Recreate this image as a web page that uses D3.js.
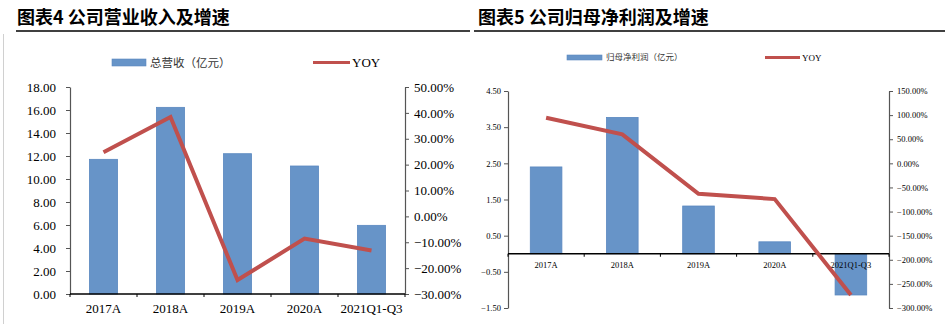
<!DOCTYPE html>
<html>
<head>
<meta charset="utf-8">
<script src="https://cdn.jsdelivr.net/npm/d3@7"></script>
<style>
  html, body { margin: 0; padding: 0; background: #fff; }
  svg { display: block; }
</style>
</head>
<body>
<svg id="chart" width="945" height="324"></svg>
<script>
// ---------- data ----------
const categories = ["2017A", "2018A", "2019A", "2020A", "2021Q1-Q3"];
const revenue = [11.71, 16.23, 12.20, 11.13, 5.97];          // 总营收（亿元）
const revenueYoy = [24.8, 38.4, -24.6, -8.6, -13.2];          // YOY %
const netProfit = [2.40, 3.77, 1.32, 0.33, -1.14];           // 归母净利润（亿元）
const netProfitYoy = [94.6, 60.2, -63.2, -74.2, -273.0];      // YOY %

const revenueTicks = [0, 2, 4, 6, 8, 10, 12, 14, 16, 18];
const revenueYoyTicks = [-30, -20, -10, 0, 10, 20, 30, 40, 50];
const profitTicks = [-1.5, -0.5, 0.5, 1.5, 2.5, 3.5, 4.5];
const profitYoyTicks = [-300, -250, -200, -150, -100, -50, 0, 50, 100, 150];

const title1 = "图表4 公司营业收入及增速";
const title2 = "图表5 公司归母净利润及增速";
const legendBar1 = "总营收（亿元）";
const legendBar2 = "归母净利润（亿元）";
const legendLine = "YOY";

// ---------- styles ----------
const BAR = "#6794c8", BAR_STROKE = "#5a88c0", LINE = "#c0504d";
const SERIF = "'Liberation Serif', 'Times New Roman', serif";
const CJK = "'Noto Sans CJK SC', sans-serif";

const svg = d3.select("#chart");

// panel border (light grey) on the far left
svg.append("line").attr("x1", 3.5).attr("x2", 3.5).attr("y1", 34).attr("y2", 324)
  .attr("stroke", "#d0d0d0").attr("stroke-width", 1);

function title(x, x2, text) {
  svg.append("text").attr("x", x).attr("y", 24)
    .attr("font-family", CJK).attr("font-weight", "bold").attr("font-size", 18)
    .attr("fill", "#000").text(text);
  svg.append("line").attr("x1", x2[0]).attr("x2", x2[1]).attr("y1", 31).attr("y2", 31)
    .attr("stroke", "#000").attr("stroke-width", 1.5);
}
title(17, [16, 470], title1);
title(478, [474, 945], title2);

function combo(cfg) {
  const g = svg.append("g");
  const x = d3.scaleBand().domain(categories).range([cfg.x0, cfg.x1]).padding(0);
  const yL = d3.scaleLinear().domain(cfg.yLDomain).range([cfg.yBottom, cfg.yTop]);
  const yR = d3.scaleLinear().domain(cfg.yRDomain).range([cfg.yBottom, cfg.yTop]);
  const bw = x.bandwidth() * cfg.barFrac;

  // bars
  g.selectAll("rect.bar").data(cfg.bars).join("rect")
    .attr("class", "bar")
    .attr("x", (d, i) => x(categories[i]) + (x.bandwidth() - bw) / 2)
    .attr("width", bw)
    .attr("y", d => Math.min(yL(d), yL(0)))
    .attr("height", d => Math.abs(yL(d) - yL(0)))
    .attr("fill", BAR).attr("stroke", BAR_STROKE).attr("stroke-width", 0.8);

  // left axis
  const axL = g.append("g").attr("transform", `translate(${cfg.x0},0)`)
    .call(d3.axisLeft(yL).tickValues(cfg.yLTicks).tickFormat(d3.format(".2f"))
      .tickSizeInner(4).tickSizeOuter(0).tickPadding(cfg.padL));
  // right axis
  const axR = g.append("g").attr("transform", `translate(${cfg.x1},0)`)
    .call(d3.axisRight(yR).tickValues(cfg.yRTicks).tickFormat(d => d3.format(".2f")(d) + "%")
      .tickSizeInner(4).tickSizeOuter(0).tickPadding(cfg.padR));
  [axL, axR].forEach(a => {
    a.select(".domain").attr("stroke", "#555").attr("stroke-width", 1.2);
    a.selectAll(".tick line").attr("stroke", "#555");
    a.selectAll("text").attr("font-family", SERIF).attr("font-size", cfg.fs).attr("fill", "#000");
  });

  // x axis line at zero
  const y0 = yL(0);
  g.append("line").attr("x1", cfg.x0).attr("x2", cfg.x1).attr("y1", y0).attr("y2", y0)
    .attr("stroke", "#000").attr("stroke-width", 1.5);
  g.selectAll("line.xt").data(categories.concat(["__end"])).join("line")
    .attr("class", "xt")
    .attr("x1", (d, i) => cfg.x0 + i * x.step()).attr("x2", (d, i) => cfg.x0 + i * x.step())
    .attr("y1", y0).attr("y2", y0 + 3).attr("stroke", "#000").attr("stroke-width", 1);
  g.selectAll("text.xl").data(categories).join("text")
    .attr("class", "xl")
    .attr("x", d => x(d) + x.bandwidth() / 2).attr("y", y0 + cfg.xLabelDy)
    .attr("text-anchor", "middle").attr("font-family", SERIF).attr("font-size", cfg.fs)
    .attr("fill", "#000").text(d => d);

  // YOY line
  const line = d3.line().x((d, i) => x(categories[i]) + x.bandwidth() / 2).y(d => yR(d));
  g.append("path").datum(cfg.yoy).attr("d", line)
    .attr("fill", "none").attr("stroke", LINE).attr("stroke-width", cfg.lw)
    .attr("stroke-linejoin", "miter");

  // legend
  const L = cfg.legend;
  g.append("rect").attr("x", L.bx).attr("y", L.by - L.bh / 2).attr("width", L.bw).attr("height", L.bh)
    .attr("fill", BAR).attr("stroke", BAR_STROKE).attr("stroke-width", 0.6);
  g.append("text").attr("x", L.bx + L.bw + 4).attr("y", L.by).attr("dy", "0.35em")
    .attr("font-family", CJK).attr("font-size", L.fs).attr("fill", "#333").text(cfg.barLabel);
  g.append("line").attr("x1", L.lx).attr("x2", L.lx + L.lwid).attr("y1", L.by).attr("y2", L.by)
    .attr("stroke", LINE).attr("stroke-width", 3);
  g.append("text").attr("x", L.lx + L.lwid + 2).attr("y", L.by).attr("dy", "0.35em")
    .attr("font-family", SERIF).attr("font-size", L.fs2).attr("fill", "#000").text(legendLine);
}

combo({
  x0: 70, x1: 405, yTop: 87, yBottom: 294,
  yLDomain: [0, 18], yRDomain: [-30, 50],
  yLTicks: revenueTicks, yRTicks: revenueYoyTicks,
  bars: revenue, yoy: revenueYoy, barFrac: 0.42,
  fs: 13, padL: 10, padR: 5, xLabelDy: 19, lw: 4,
  barLabel: legendBar1,
  legend: { bx: 112, by: 62.5, bw: 34, bh: 7, fs: 11.5, lx: 313, lwid: 37, fs2: 13 }
});

combo({
  x0: 508, x1: 889, yTop: 91, yBottom: 308,
  yLDomain: [-1.5, 4.5], yRDomain: [-300, 150],
  yLTicks: profitTicks, yRTicks: profitYoyTicks,
  bars: netProfit, yoy: netProfitYoy, barFrac: 0.415,
  fs: 8.5, padL: 3, padR: 4, xLabelDy: 14, lw: 4,
  barLabel: legendBar2,
  legend: { bx: 567, by: 57.5, bw: 35, bh: 5, fs: 8.5, lx: 765, lwid: 35, fs2: 9 }
});
</script>
</body>
</html>
